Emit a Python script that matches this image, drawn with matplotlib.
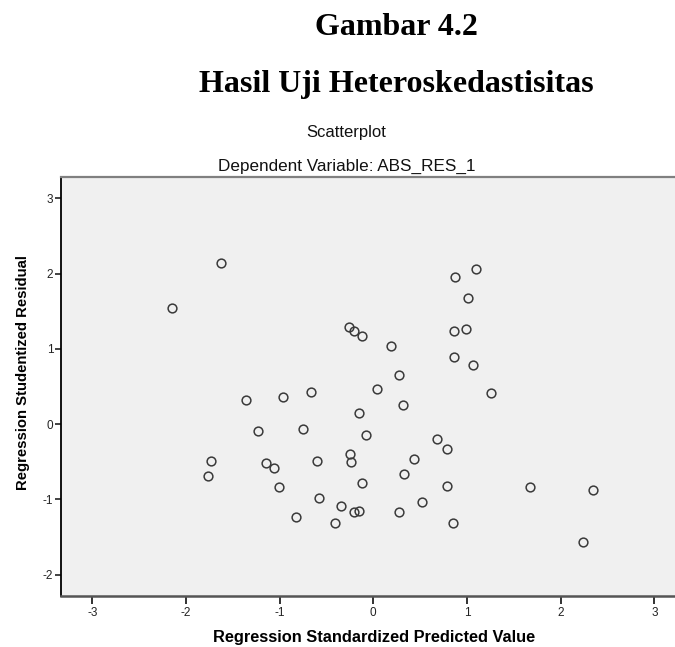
import numpy as np
import matplotlib
matplotlib.use("Agg")
import matplotlib.pyplot as plt

# Scatterplot data (standardized predicted value vs studentized residual)
pred_x = [-1.63, -2.15, 1.10, 0.87, 1.01, -0.26, -0.21, -0.12, 0.19, 0.86,
          0.99, 0.86, 1.06, 0.27, 0.04, 1.26, 0.32, -0.15, -0.08, 0.68,
          0.79, -0.25, -0.24, 0.43, 0.33, -0.12, 0.79, 1.67, 2.34, 0.52,
          -0.35, -0.21, -0.15, 0.27, -0.41, 0.85, 2.24, -1.36, -0.96, -0.67,
          -1.23, -0.75, -1.73, -1.76, -1.14, -1.06, -0.60, -1.01, -0.58, -0.83]
resid_y = [2.14, 1.55, 2.06, 1.96, 1.67, 1.29, 1.24, 1.17, 1.04, 1.24,
           1.27, 0.89, 0.78, 0.65, 0.47, 0.42, 0.26, 0.15, -0.14, -0.20,
           -0.33, -0.40, -0.50, -0.46, -0.66, -0.78, -0.82, -0.84, -0.87, -1.03,
           -1.09, -1.17, -1.15, -1.17, -1.31, -1.32, -1.57, 0.32, 0.36, 0.43,
           -0.09, -0.06, -0.49, -0.69, -0.51, -0.58, -0.49, -0.83, -0.98, -1.24]

x_ticks = [-3, -2, -1, 0, 1, 2, 3]
y_ticks = [-2, -1, 0, 1, 2, 3]

plt.rcParams['font.family'] = ['Liberation Sans', 'DejaVu Sans']
plt.rcParams['axes.unicode_minus'] = False

fig = plt.figure(figsize=(6.75, 6.47), dpi=100)
fig.patch.set_facecolor('white')

# axes run a little past the right edge, like the cropped original
ax = fig.add_axes([0.0908, 0.0793, 0.9245, 0.6466])
ax.set_facecolor('#f0f0f0')
ax.plot(pred_x, resid_y, 'o', ms=6.3, mfc='none', mec='#3a3a3a', mew=1.1)

ax.set_xlim(-3.33, 3.33)
ax.set_ylim(-2.28, 3.28)
ax.set_xticks(x_ticks)
ax.set_yticks(y_ticks)
ax.tick_params(axis='x', length=6, width=1.3, pad=2.5, labelsize=8.5,
               colors='#222222')
ax.tick_params(axis='y', length=4.3, width=1.2, pad=1.5, labelsize=8.5,
               colors='#222222')

ax.spines['left'].set_color('black')
ax.spines['left'].set_linewidth(1.3)
ax.spines['bottom'].set_color('#555555')
ax.spines['bottom'].set_linewidth(1.8)
ax.spines['top'].set_color('#808080')
ax.spines['top'].set_linewidth(1.6)
ax.spines['right'].set_visible(False)

# headings
fig.text(0.587, 0.9459, 'Gambar 4.2', ha='center', va='baseline',
         family='Liberation Serif', weight='bold', fontsize=23)
fig.text(0.587, 0.8578, 'Hasil Uji Heteroskedastisitas', ha='center',
         va='baseline', family='Liberation Serif', weight='bold', fontsize=23)
fig.text(0.5126, 0.7883, 'Scatterplot', ha='center', va='baseline',
         fontsize=12, color='#111111')
fig.text(0.514, 0.7357, 'Dependent Variable: ABS_RES_1', ha='center',
         va='baseline', fontsize=12.3, color='#111111')

# axis labels
fig.text(374 / 675, 0.0082, 'Regression Standardized Predicted Value',
         ha='center', va='baseline', fontsize=11.8, weight='bold')
fig.text(23 / 675, 0.4243, 'Regression Studentized Residual', rotation=90,
         ha='center', va='center', fontsize=10.7, weight='bold')

plt.savefig('out.png', dpi=100)
